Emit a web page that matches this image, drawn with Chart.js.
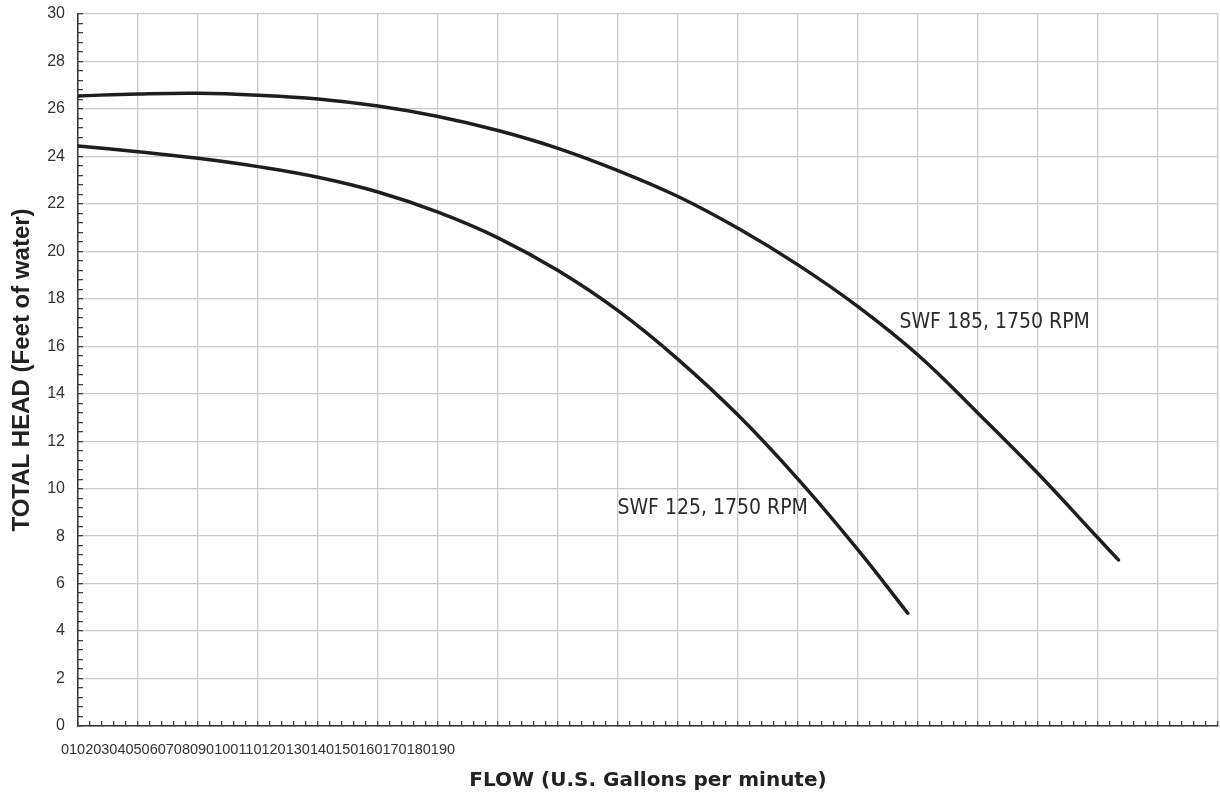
<!DOCTYPE html>
<html>
<head>
<meta charset="utf-8">
<script src="https://cdn.jsdelivr.net/npm/chart.js@4.4.1/dist/chart.umd.min.js"></script>
<style>
  body { margin: 0; background: #fff; }
  #wrap { width: 1220px; height: 801px; }
</style>
</head>
<body>
<div id="wrap"><canvas id="myChart"></canvas></div>
<script>
// values
const flow125 = [0, 10, 20, 30, 40, 50, 60, 70, 80, 90, 100, 110, 120, 130, 138.3];
const head125 = [24.44, 24.2, 23.92, 23.57, 23.12, 22.5, 21.65, 20.57, 19.19, 17.5, 15.45, 13.1, 10.4, 7.42, 4.75];

const flow185 = [0, 10, 20, 30, 40, 50, 60, 70, 80, 90, 100, 110, 120, 130, 140, 150, 160, 170, 173.4];
const head185 = [26.55, 26.63, 26.66, 26.58, 26.42, 26.12, 25.68, 25.09, 24.34, 23.4, 22.31, 20.97, 19.43, 17.67, 15.63, 13.18, 10.64, 7.92, 7.0];

const seriesNames = ['SWF 125, 1750 RPM', 'SWF 185, 1750 RPM'];

const flowLabels = ['0', '10', '20', '30', '40', '50', '60', '70', '80', '90',
  '100', '110', '120', '130', '140', '150', '160', '170', '180', '190'];
const headLabels = [0, 2, 4, 6, 8, 10, 12, 14, 16, 18, 20, 22, 24, 26, 28, 30];

const toPoints = (xs, ys) => xs.map((v, i) => ({x: v, y: ys[i]}));

const isMultiple = (v, m) => Math.abs(v / m - Math.round(v / m)) < 1e-6;

// curve captions, placed in data units
const curveNames = {
  id: 'curveNames',
  afterDatasetsDraw(chart) {
    const {ctx, scales: {x, y}} = chart;
    ctx.save();
    ctx.font = '21px "DejaVu Sans Condensed", "DejaVu Sans", sans-serif';
    ctx.fillStyle = '#2b2b2b';
    ctx.textBaseline = 'middle';
    ctx.textAlign = 'left';
    ctx.fillText(seriesNames[0], x.getPixelForValue(89.9), y.getPixelForValue(9.17));
    ctx.fillText(seriesNames[1], x.getPixelForValue(136.9), y.getPixelForValue(17.02));
    ctx.restore();
  }
};

const lineStyle = {
  borderColor: '#1e1e1e',
  borderWidth: 3.5,
  borderCapStyle: 'round',
  pointRadius: 0,
  fill: false,
  tension: 0.4
};

const data = {
  datasets: [
    Object.assign({label: seriesNames[0], data: toPoints(flow125, head125)}, lineStyle),
    Object.assign({label: seriesNames[1], data: toPoints(flow185, head185)}, lineStyle)
  ]
};

const config = {
  type: 'line',
  data: data,
  plugins: [curveNames],
  options: {
    responsive: true,
    maintainAspectRatio: false,
    animation: false,
    layout: { padding: { top: 14, right: 2, left: 0, bottom: 0 } },
    plugins: {
      legend: { display: false },
      tooltip: { enabled: false }
    },
    scales: {
      x: {
        type: 'linear',
        min: 0,
        max: 190,
        afterFit: (scale) => {
          scale.height = 75;
          scale.paddingLeft = 0;
          scale.paddingRight = 0;
        },
        ticks: {
          stepSize: 2,
          maxTicksLimit: 1000,
          autoSkip: false,
          maxRotation: 0,
          minRotation: 0,
          padding: 20,
          color: '#333',
          font: { family: '"Liberation Sans", Arial, sans-serif', size: 14.5 },
          callback: (v) => v === 30 ? flowLabels.join('') : ''
        },
        grid: {
          color: (c) => isMultiple(c.tick.value, 10) ? '#c9c9c9' : 'rgba(0,0,0,0)',
          lineWidth: 1.3,
          tickColor: '#444',
          tickLength: -5,
          drawTicks: true
        },
        border: { color: '#333', width: 1.5 },
        title: {
          display: true,
          text: 'FLOW (U.S. Gallons per minute)',
          color: '#222',
          font: { family: '"DejaVu Sans", Verdana, sans-serif', size: 20, weight: 'bold' },
          padding: { top: 0, bottom: 8 }
        }
      },
      y: {
        type: 'linear',
        min: 0,
        max: 30,
        afterFit: (scale) => {
          scale.width = 78;
          scale.paddingTop = 0;
          scale.paddingBottom = 0;
        },
        ticks: {
          stepSize: 0.4,
          maxTicksLimit: 1000,
          autoSkip: false,
          padding: 18,
          color: '#333',
          font: { family: '"Liberation Sans", Arial, sans-serif', size: 16 },
          callback: (v) => headLabels.find(h => Math.abs(h - v) < 1e-6) !== undefined ? Math.round(v) : ''
        },
        grid: {
          color: (c) => isMultiple(c.tick.value, 2) ? '#c9c9c9' : 'rgba(0,0,0,0)',
          lineWidth: 1.3,
          tickColor: '#444',
          tickLength: -5,
          drawTicks: true
        },
        border: { color: '#333', width: 1.5 },
        title: {
          display: true,
          text: 'TOTAL HEAD (Feet of water)',
          color: '#222',
          font: { family: '"Liberation Sans", Arial, sans-serif', size: 24, weight: 'bold' },
          padding: { top: 8, bottom: 0 }
        }
      }
    }
  }
};

const myChart = new Chart(document.getElementById('myChart'), config);
</script>
</body>
</html>
